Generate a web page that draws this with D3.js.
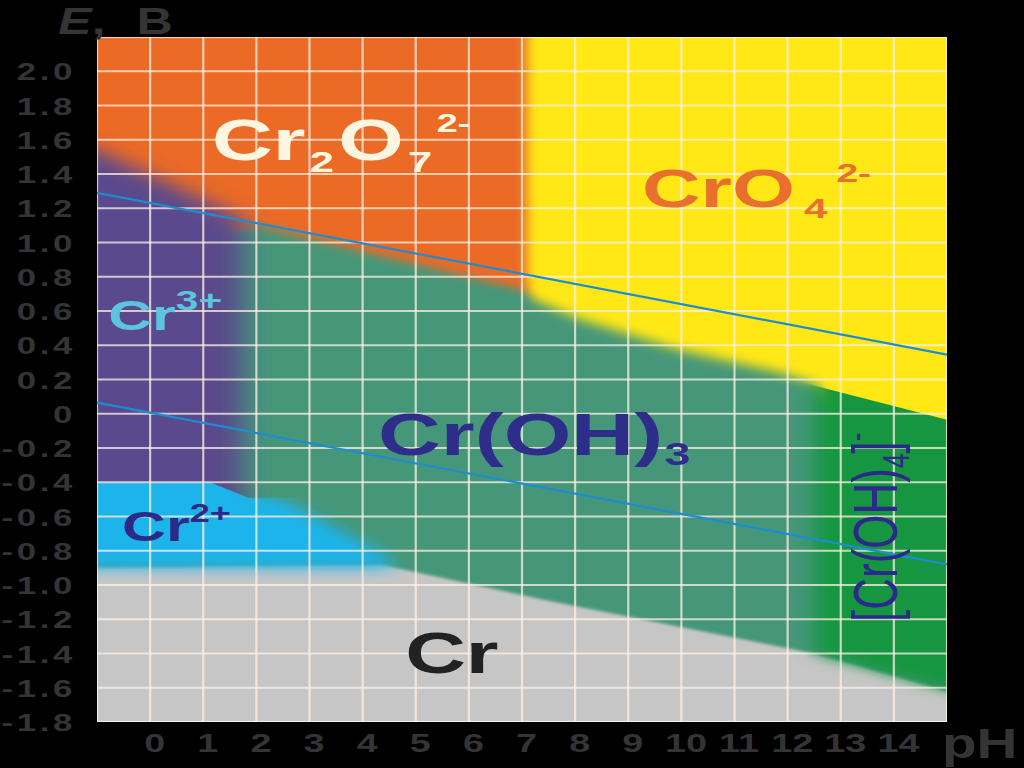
<!DOCTYPE html>
<html>
<head>
<meta charset="utf-8">
<script src="https://cdn.jsdelivr.net/npm/d3@7/dist/d3.min.js"></script>
<style>
  html, body { margin: 0; padding: 0; background: #000; }
  svg { display: block; }
</style>
</head>
<body>
<div id="chartDiv"></div>
<script>
// ticks
var phTicks = [0, 1, 2, 3, 4, 5, 6, 7, 8, 9, 10, 11, 12, 13, 14];
var eTicks = [2.0, 1.8, 1.6, 1.4, 1.2, 1.0, 0.8, 0.6, 0.4, 0.2, 0, -0.2, -0.4, -0.6, -0.8, -1.0, -1.2, -1.4, -1.6, -1.8];

// stability fields, [pH, E] (outlines run past the frame, the frame clips them)
var fieldCrOH3 = [[-2, 2.6], [16, 2.6], [16, -2.4], [-2, -2.4]];
var fieldCr = [[-2, -0.9], [4.33, -0.88], [7.47, -1.09], [12.5, -1.40], [15, -1.62], [16, -1.68], [16, -2.4], [-2, -2.4]];
var fieldCr2 = [[-2, -0.2], [1.4, -0.2], [1.9, -0.46], [2.5, -0.5], [4.5, -0.84], [4.6, -0.9], [-2, -0.9]];
var fieldCr2O7 = [[-2, 2.6], [7.5, 2.6], [7.5, 0.69], [7.06, 0.72], [2.0, 1.1], [1.3, 1.05], [-2, 1.3]];
var fieldCrO4 = [[7.1, 2.6], [16, 2.6], [16, -0.35], [13.0, -0.05], [12.55, 0.17], [11.85, 0.24], [10.0, 0.37], [8.1, 0.55], [7.2, 0.67], [7.1, 0.75]];
var fieldCr3 = [[-2, 1.62], [-1, 1.54], [1.75, 1.14], [1.75, -0.7], [-2, -0.7]];
var fieldCrOH4 = [[12.5, 0.5], [16, 0.5], [16, -1.68], [15, -1.61], [12.5, -1.40]];

// sharp edges
var edgeCr2 = [[-2, -0.4], [1.13, -0.4], [1.85, -0.49], [16, -0.49], [16, -2.5], [-2, -2.5]];
var edgeCr3 = [[-2, 2.6], [16, 2.6], [16, -0.49], [1.85, -0.49], [1.13, -0.4], [-2, -0.4]];
var edgeCrOH4 = [[11.8, 0.22], [16, -0.115], [16, -2.5], [11.8, -2.5]];

// water lines
var waterUpper = [[-1, 1.29], [15, 0.345]];
var waterLower = [[-1, 0.065], [15, -0.88]];

// species names
var nameCr2O7 = [['Cr'], ['2', 'sub'], ['O'], ['7', 'sub'], ['2-', 'sup']];
var nameCrO4 = [['CrO'], ['4', 'sub'], ['2-', 'sup']];
var nameCr3 = [['Cr'], ['3+', 'sup']];
var nameCr2 = [['Cr'], ['2+', 'sup']];
var nameCrOH3 = [['Cr(OH)'], ['3', 'sub']];
var nameCr = [['Cr']];
var nameCrOH4 = [['[Cr(OH)'], ['4', 'sub'], [']'], ['-', 'sup']];

var FONT = '"Liberation Sans", Arial, sans-serif';
var w = 1024, h = 768;

var svg = d3.select('#chartDiv').append('svg')
  .attr('width', w)
  .attr('height', h);

svg.append('rect').attr('width', w).attr('height', h).attr('fill', '#000');

var xScale = d3.scaleLinear().domain([-1, 15]).range([97, 947]);
var yScale = d3.scaleLinear().domain([-1.8, 2.2]).range([722, 37]);

var line = d3.line()
  .x(function(d) { return xScale(d[0]); })
  .y(function(d) { return yScale(d[1]); });
function outline(pts) { return line(pts) + 'Z'; }

var defs = svg.append('defs');
defs.append('clipPath').attr('id', 'plotClip').append('rect')
  .attr('x', xScale(-1)).attr('y', yScale(2.2))
  .attr('width', xScale(15) - xScale(-1))
  .attr('height', yScale(-1.8) - yScale(2.2));

var fields = [
  { pts: fieldCrOH3, fill: '#46977a' },
  { pts: fieldCr, fill: '#c6c6c6', blur: '1.5' },
  { pts: fieldCr2, fill: '#1eb4eb', blur: '9 7', edge: edgeCr2 },
  { pts: fieldCr2O7, fill: '#eb6a25', blur: '5' },
  { pts: fieldCrO4, fill: '#ffe817', blur: '6' },
  { pts: fieldCr3, fill: '#5a488c', blur: '14 9', edge: edgeCr3 },
  { pts: fieldCrOH4, fill: '#17963f', blur: '10 6', edge: edgeCrOH4 }
];

var plot = svg.append('g').attr('clip-path', 'url(#plotClip)');

fields.forEach(function(f, i) {
  var p = plot.append('path')
    .attr('d', outline(f.pts))
    .attr('fill', f.fill);
  if (f.blur) {
    defs.append('filter').attr('id', 'blur' + i)
      .attr('filterUnits', 'userSpaceOnUse')
      .attr('x', -200).attr('y', -200).attr('width', 1424).attr('height', 1168)
      .append('feGaussianBlur').attr('stdDeviation', f.blur);
    p.attr('filter', 'url(#blur' + i + ')');
  }
  if (f.edge) {
    defs.append('clipPath').attr('id', 'edge' + i)
      .append('path').attr('d', outline(f.edge));
    p.attr('clip-path', 'url(#edge' + i + ')');
  }
});

// grid
var grid = plot.append('g')
  .attr('stroke', '#fff0e6')
  .attr('stroke-opacity', 0.75)
  .attr('stroke-width', 2.2);
grid.selectAll('.v').data(phTicks).enter().append('line')
  .attr('x1', function(d) { return xScale(d); })
  .attr('x2', function(d) { return xScale(d); })
  .attr('y1', yScale(2.2)).attr('y2', yScale(-1.8));
grid.selectAll('.h').data(eTicks).enter().append('line')
  .attr('y1', function(d) { return yScale(d); })
  .attr('y2', function(d) { return yScale(d); })
  .attr('x1', xScale(-1)).attr('x2', xScale(15));
grid.append('rect')
  .attr('x', xScale(-1)).attr('y', yScale(2.2))
  .attr('width', xScale(15) - xScale(-1))
  .attr('height', yScale(-1.8) - yScale(2.2))
  .attr('fill', 'none');

// water stability lines
[waterUpper, waterLower].forEach(function(l) {
  plot.append('path')
    .attr('d', line(l))
    .attr('fill', 'none')
    .attr('stroke', '#1e8cd2')
    .attr('stroke-width', 2.2);
});

// axes
var TICK = '#343434';
var yAxis = d3.axisLeft(yScale)
  .tickValues(eTicks)
  .tickSize(0)
  .tickPadding(0)
  .tickFormat(function(d) { return d === 0 ? '0' : d.toFixed(1); });
var yg = svg.append('g')
  .attr('transform', 'translate(' + (xScale(-1) - 21) + ',0)')
  .call(yAxis);
yg.select('.domain').remove();
yg.selectAll('text')
  .attr('x', 0)
  .attr('dy', '0.36em')
  .attr('transform', 'scale(1.45,1)')
  .attr('fill', TICK)
  .attr('font-family', FONT)
  .attr('font-weight', 'bold')
  .attr('font-size', 24)
  .attr('letter-spacing', 2.5);

var xAxis = d3.axisBottom(xScale)
  .tickValues(phTicks)
  .tickSize(0)
  .tickPadding(0);
var xg = svg.append('g')
  .attr('transform', 'translate(4,752)')
  .call(xAxis);
xg.select('.domain').remove();
xg.selectAll('text')
  .attr('y', 0)
  .attr('dy', 0)
  .attr('transform', 'scale(1.45,1)')
  .attr('fill', TICK)
  .attr('font-family', FONT)
  .attr('font-weight', 'bold')
  .attr('font-size', 26);

// axis titles
var eTitle = svg.append('text')
  .attr('transform', 'translate(58,34) scale(1.4,1)')
  .attr('fill', TICK)
  .attr('font-family', FONT)
  .attr('font-weight', 'bold')
  .attr('font-size', 36);
eTitle.append('tspan').attr('font-style', 'italic').text('E');
eTitle.append('tspan').text(',');
eTitle.append('tspan').attr('dx', 22).text('В');

svg.append('text')
  .attr('transform', 'translate(942,758) scale(1.35,1)')
  .attr('fill', TICK)
  .attr('font-family', FONT)
  .attr('font-weight', 'bold')
  .attr('font-size', 42)
  .text('pH');

// species labels
function drawLabel(parts, st, ph, e) {
  var tr = 'translate(' + xScale(ph) + ',' + yScale(e) + ')' +
    (st.rotate ? ' rotate(-90) scale(1,' + st.stretch + ')' : ' scale(' + st.stretch + ',1)');
  var t = svg.append('text')
    .attr('transform', tr)
    .attr('fill', st.color)
    .attr('font-family', FONT)
    .attr('font-weight', st.weight || 'bold')
    .attr('font-size', st.size);
  var shift = 0;
  parts.forEach(function(p, i) {
    var kind = p[1];
    var target = kind === 'sub' ? st.subShift : kind === 'sup' ? st.supShift : 0;
    t.append('tspan')
      .attr('dx', i ? st.gap : 0)
      .attr('dy', target - shift)
      .attr('font-size', kind === 'sub' ? st.subSize : kind === 'sup' ? st.supSize : st.size)
      .text(p[0]);
    shift = target;
  });
}

drawLabel(nameCr2O7, { color: '#fff6e2', size: 58, subSize: 30, subShift: 12, supSize: 26, supShift: -28, gap: 3, stretch: 1.45 }, 1.165, 1.48);
drawLabel(nameCrO4, { color: '#e8702c', size: 54, subSize: 28, subShift: 11, supSize: 26, supShift: -25, gap: 6, stretch: 1.5 }, 9.26, 1.207);
drawLabel(nameCr3, { color: '#5cc4de', size: 42, supSize: 28, supShift: -20, gap: 0, stretch: 1.45 }, -0.79, 0.49);
drawLabel(nameCr2, { color: '#2c2a86', size: 42, supSize: 25, supShift: -19, gap: 0, stretch: 1.45 }, -0.53, -0.743);
drawLabel(nameCrOH3, { color: '#2e2d8a', size: 60, subSize: 32, subShift: 10, gap: 1, stretch: 1.45 }, 4.29, -0.24);
drawLabel(nameCr, { color: '#222222', size: 58, gap: 0, stretch: 1.45 }, 4.8, -1.514);
drawLabel(nameCrOH4, { color: '#2b2a8a', size: 44, weight: 'normal', subSize: 26, subShift: 8, supSize: 26, supShift: -20, gap: 0, stretch: 1.45, rotate: true }, 14.06, -1.216);
</script>
</body>
</html>
